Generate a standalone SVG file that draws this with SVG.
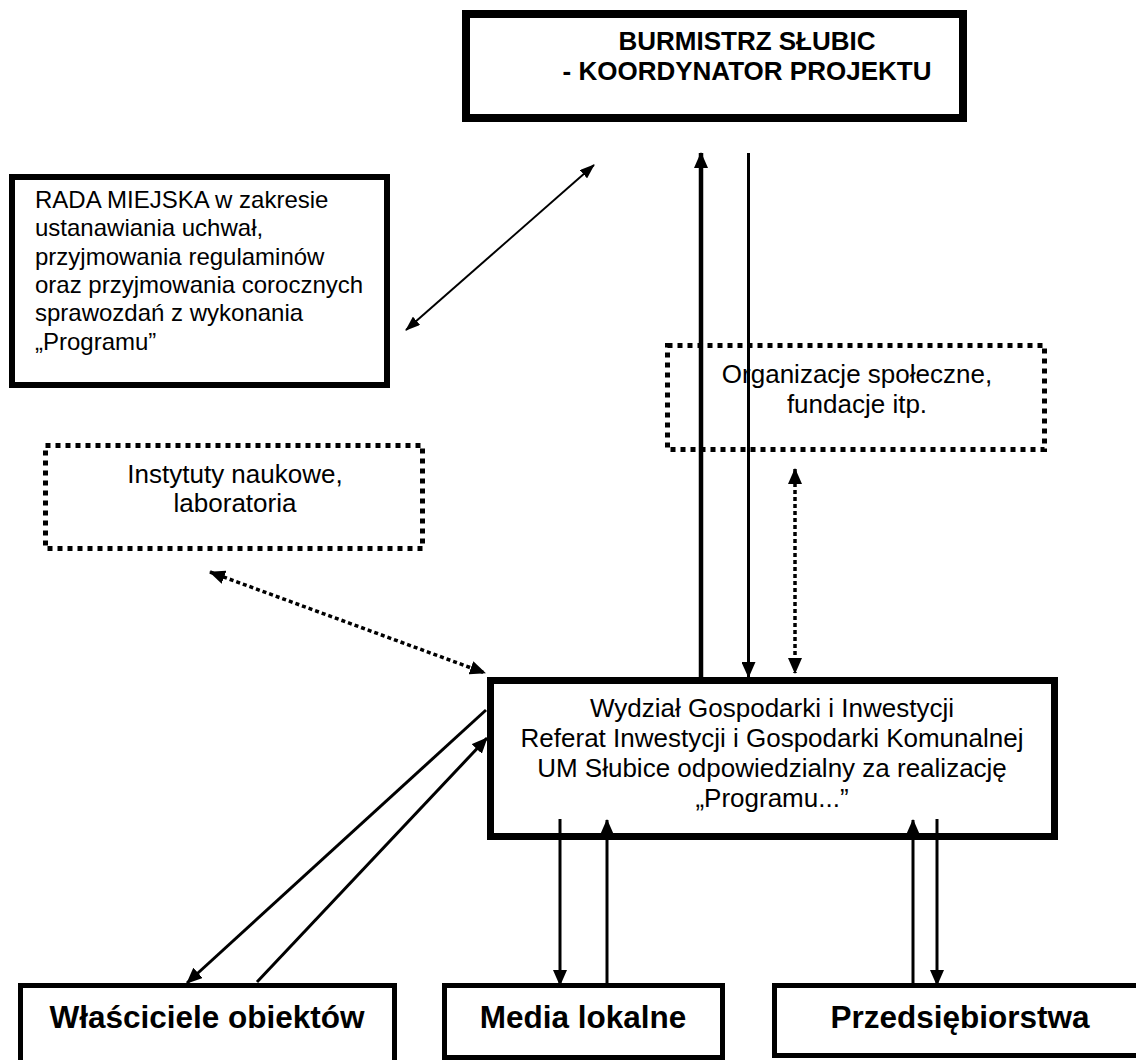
<svg xmlns="http://www.w3.org/2000/svg" width="1136" height="1060" viewBox="0 0 1136 1060">
<style>
text{font-family:"Liberation Sans",Arial,sans-serif;fill:#000}
.b{font-weight:bold}
.box{fill:#fff;stroke:#000}
.dot{fill:#fff;stroke:#000;stroke-width:5;stroke-dasharray:5 5}
.ln{stroke:#000;fill:none}
</style>
<defs>
<marker id="ah" markerUnits="userSpaceOnUse" viewBox="0 0 16 14" markerWidth="16" markerHeight="14" refX="15" refY="7" orient="auto-start-reverse">
<path d="M0,0 L16,7 L0,14 z" fill="#000"/>
</marker>
<marker id="ahs" markerUnits="userSpaceOnUse" viewBox="0 0 15 11" markerWidth="15" markerHeight="11" refX="14" refY="5.5" orient="auto-start-reverse">
<path d="M0,0 L15,5.5 L0,11 z" fill="#000"/>
</marker>
</defs>
<rect width="1136" height="1060" fill="#fff"/>

<g id="burmistrz">
<rect class="box" x="466" y="14" width="497" height="104" stroke-width="8"/>
<text class="b" x="747" y="50" font-size="26" text-anchor="middle">BURMISTRZ SŁUBIC</text>
<text class="b" x="747" y="80" font-size="26" text-anchor="middle">- KOORDYNATOR PROJEKTU</text>
</g>

<g id="rada">
<rect class="box" x="12" y="177" width="375" height="208" stroke-width="6"/>
<text x="35" font-size="24">
<tspan x="35" y="208">RADA MIEJSKA w zakresie</tspan>
<tspan x="35" y="236">ustanawiania uchwał,</tspan>
<tspan x="35" y="265">przyjmowania regulaminów</tspan>
<tspan x="35" y="293">oraz przyjmowania corocznych</tspan>
<tspan x="35" y="321">sprawozdań z wykonania</tspan>
<tspan x="35" y="350">„Programu”</tspan>
</text>
</g>

<g id="instytuty">
<rect class="dot" x="45.5" y="445.5" width="377" height="103"/>
<text x="235" y="483" font-size="26" text-anchor="middle">Instytuty naukowe,</text>
<text x="235" y="512" font-size="26" text-anchor="middle">laboratoria</text>
</g>

<g id="organizacje">
<rect class="dot" x="667.5" y="345.5" width="377" height="104"/>
<text x="857" y="383" font-size="26" text-anchor="middle">Organizacje społeczne,</text>
<text x="857" y="413" font-size="26" text-anchor="middle">fundacje itp.</text>
</g>

<g id="wydzial">
<rect class="box" x="490.5" y="680.5" width="564" height="156" stroke-width="7"/>
<text x="772" y="717" font-size="26" text-anchor="middle">Wydział Gospodarki i Inwestycji</text>
<text x="772" y="747" font-size="26" text-anchor="middle">Referat Inwestycji i Gospodarki Komunalnej</text>
<text x="772" y="777" font-size="26" text-anchor="middle">UM Słubice odpowiedzialny za realizację</text>
<text x="772" y="807" font-size="26" text-anchor="middle">„Programu...”</text>
</g>

<g id="wlasciciele">
<rect class="box" x="20.5" y="985.5" width="374" height="90" stroke-width="5"/>
<text class="b" x="207" y="1028" font-size="31.5" text-anchor="middle">Właściciele obiektów</text>
</g>

<g id="media">
<rect class="box" x="444.5" y="985.5" width="278" height="72" stroke-width="5"/>
<text class="b" x="583" y="1028" font-size="31.5" text-anchor="middle">Media lokalne</text>
</g>

<g id="przedsiebiorstwa">
<rect class="box" x="774.5" y="985.5" width="380" height="70" stroke-width="5"/>
<text class="b" x="960" y="1028" font-size="31.5" text-anchor="middle">Przedsiębiorstwa</text>
</g>

<g id="connectors">
<line class="ln" x1="406" y1="330" x2="594" y2="165" stroke-width="2" marker-start="url(#ahs)" marker-end="url(#ahs)"/>
<line class="ln" x1="701" y1="677" x2="701" y2="153" stroke-width="4.5" marker-end="url(#ah)"/>
<line class="ln" x1="748.5" y1="153" x2="748.5" y2="677" stroke-width="3" marker-end="url(#ah)"/>
<line class="ln" x1="795" y1="469" x2="795" y2="673" stroke-width="3.5" stroke-dasharray="4 3" marker-start="url(#ah)" marker-end="url(#ah)"/>
<line class="ln" x1="210" y1="572" x2="485" y2="673" stroke-width="3.5" stroke-dasharray="4 3" marker-start="url(#ah)" marker-end="url(#ah)"/>
<line class="ln" x1="486" y1="710" x2="187" y2="983" stroke-width="3" marker-end="url(#ah)"/>
<line class="ln" x1="257" y1="982" x2="487" y2="738" stroke-width="3" marker-end="url(#ah)"/>
<line class="ln" x1="560" y1="819" x2="560" y2="985" stroke-width="3" marker-end="url(#ah)"/>
<line class="ln" x1="607" y1="985" x2="607" y2="820" stroke-width="3" marker-end="url(#ah)"/>
<line class="ln" x1="913" y1="985" x2="913" y2="820" stroke-width="3" marker-end="url(#ah)"/>
<line class="ln" x1="937" y1="819" x2="937" y2="985" stroke-width="3" marker-end="url(#ah)"/>
</g>
</svg>
